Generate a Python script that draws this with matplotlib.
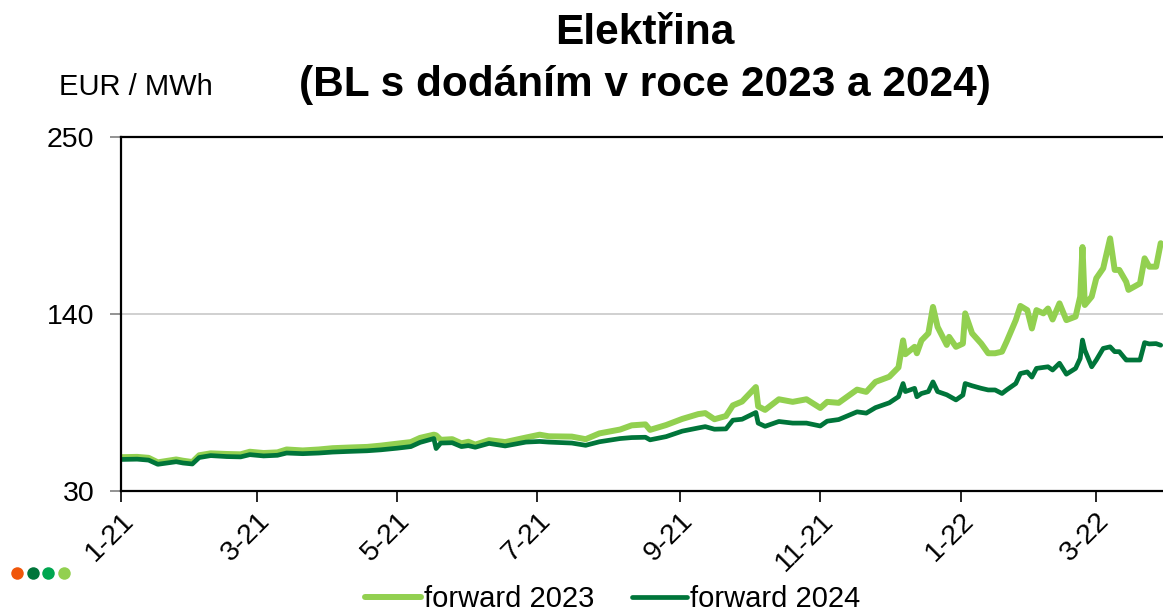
import matplotlib
matplotlib.use("Agg")
import matplotlib.pyplot as plt
import matplotlib.dates as mdates
from matplotlib.lines import Line2D
import pandas as pd

plt.rcParams["font.family"] = ["Liberation Sans", "DejaVu Sans"]

# Baseload forward prices, EUR/MWh
dates = [
    "2021-01-01", "2021-01-08", "2021-01-13", "2021-01-17", "2021-01-25", "2021-01-28",
    "2021-02-01", "2021-02-04", "2021-02-09", "2021-02-16", "2021-02-22", "2021-02-26",
    "2021-03-04", "2021-03-10", "2021-03-14", "2021-03-21", "2021-03-28", "2021-04-03",
    "2021-04-10", "2021-04-18", "2021-04-24", "2021-05-01", "2021-05-07", "2021-05-11",
    "2021-05-17", "2021-05-18", "2021-05-20", "2021-05-25", "2021-05-29", "2021-06-01",
    "2021-06-04", "2021-06-10", "2021-06-17", "2021-06-26", "2021-07-02", "2021-07-06",
    "2021-07-16", "2021-07-22", "2021-07-28", "2021-08-06", "2021-08-11", "2021-08-17",
    "2021-08-19", "2021-08-26", "2021-09-02", "2021-09-09", "2021-09-12", "2021-09-16",
    "2021-09-21", "2021-09-24", "2021-09-28", "2021-10-04", "2021-10-05", "2021-10-08",
    "2021-10-14", "2021-10-20", "2021-10-26", "2021-11-01", "2021-11-04", "2021-11-09",
    "2021-11-17", "2021-11-21", "2021-11-25", "2021-12-01", "2021-12-05", "2021-12-07",
    "2021-12-08", "2021-12-12", "2021-12-13", "2021-12-15", "2021-12-18", "2021-12-20",
    "2021-12-22", "2021-12-26", "2021-12-27", "2021-12-30", "2022-01-02", "2022-01-03",
    "2022-01-06", "2022-01-10", "2022-01-13", "2022-01-16", "2022-01-19", "2022-01-21",
    "2022-01-25", "2022-01-27", "2022-01-30", "2022-02-01", "2022-02-03", "2022-02-06",
    "2022-02-08", "2022-02-10", "2022-02-13", "2022-02-16", "2022-02-20", "2022-02-22",
    "2022-02-23", "2022-02-24", "2022-02-27", "2022-03-01", "2022-03-04", "2022-03-07",
    "2022-03-09", "2022-03-11", "2022-03-14", "2022-03-15", "2022-03-20", "2022-03-22",
    "2022-03-24", "2022-03-27", "2022-03-29",
]

forward_2023 = [
    51.0, 51.2, 50.6, 47.8, 49.6, 48.8,
    48.0, 52.2, 53.4, 53.0, 52.8, 54.4,
    53.6, 54.0, 55.8, 55.2, 55.8, 56.6,
    57.0, 57.4, 58.2, 59.4, 60.4, 63.0,
    65.0, 64.6, 61.8, 62.2, 59.6, 60.6,
    58.8, 61.6, 60.4, 63.2, 65.0, 64.0,
    63.8, 62.2, 65.8, 68.2, 70.8, 71.4,
    68.0, 71.0, 74.8, 77.8, 78.4, 74.6,
    76.6, 83.2, 85.6, 94.6, 82.6, 80.4,
    87.0, 85.4, 87.0, 81.6, 85.4, 84.8,
    93.0, 91.6, 97.8, 101.0, 106.8, 123.6,
    115.0, 119.6, 115.6, 123.6, 128.0, 144.4,
    132.0, 120.8, 125.8, 119.6, 121.6, 140.4,
    128.0, 121.6, 115.6, 115.6, 116.6, 122.8,
    136.2, 145.0, 142.4, 131.0, 142.4, 140.4,
    143.4, 136.6, 146.6, 136.2, 138.4, 150.8,
    181.6, 145.6, 150.8, 162.2, 168.4, 187.0,
    167.4, 167.4, 160.0, 155.0, 159.0, 174.6,
    169.4, 169.4, 184.0,
]

forward_2024 = [
    49.6, 49.8, 49.2, 46.6, 48.2, 47.4,
    46.8, 50.8, 52.0, 51.4, 51.2, 52.6,
    51.8, 52.2, 53.6, 53.2, 53.6, 54.2,
    54.6, 55.0, 55.6, 56.6, 57.6, 60.2,
    62.6, 56.4, 59.8, 60.0, 57.6, 58.2,
    57.2, 59.6, 58.0, 60.4, 60.8, 60.4,
    59.8, 58.4, 60.6, 62.6, 63.2, 63.4,
    61.8, 63.8, 67.2, 69.2, 70.0, 68.4,
    68.6, 74.0, 74.6, 78.8, 72.2, 70.2,
    73.2, 72.2, 72.2, 70.4, 73.4, 74.4,
    79.2, 78.4, 81.8, 84.8, 88.6, 96.8,
    91.8, 93.8, 88.6, 90.6, 91.8, 97.8,
    91.8, 89.8, 89.0, 86.6, 89.6, 96.8,
    95.4, 93.8, 92.8, 92.8, 90.6, 92.8,
    96.8, 103.0, 104.0, 100.8, 106.2, 106.8,
    107.2, 105.2, 109.4, 102.6, 106.2, 112.4,
    123.8, 117.6, 107.2, 111.4, 118.6, 119.6,
    116.6, 116.6, 111.4, 111.4, 111.4, 122.2,
    121.4, 121.6, 120.6,
]

series_labels = ["forward 2023", "forward 2024"]
series_colors = ["#92D050", "#00753A"]
y_ticks = [30, 140, 250]
dot_colors = ["#F0560A", "#00753A", "#00A650", "#92D050"]

x = pd.to_datetime(dates)

fig = plt.figure(figsize=(11.63, 6.13), dpi=100)
ax = fig.add_axes([121 / 1163, 1 - 491 / 613, 1 - 121 / 1163, (491 - 137) / 613])

ax.plot(x, forward_2023, color=series_colors[0], lw=4.3, label=series_labels[0],
        solid_joinstyle="round", solid_capstyle="round")
ax.plot(x, forward_2024, color=series_colors[1], lw=3.4, label=series_labels[1],
        solid_joinstyle="round", solid_capstyle="round")

ax.set_xlim(pd.Timestamp("2021-01-01"), pd.Timestamp("2022-03-30"))
ax.set_ylim(30, 250)
ax.set_yticks(y_ticks)
ax.yaxis.grid(True, color="#C8C8C8", lw=1.2)
ax.set_axisbelow(True)

ax.xaxis.set_major_locator(mdates.MonthLocator(bymonth=[1, 3, 5, 7, 9, 11]))
ax.xaxis.set_major_formatter(mdates.DateFormatter("%-m-%y"))
for lbl in ax.get_xticklabels():
    lbl.set_rotation(45)
    lbl.set_ha("right")
    lbl.set_rotation_mode("anchor")

ax.tick_params(axis="x", direction="out", length=8, width=1.2, color="black",
               labelsize=20.5, pad=4)
ax.tick_params(axis="y", direction="out", length=8, width=1.2, color="#808080",
               labelsize=20.5, pad=11)

for side in ["left", "bottom", "top"]:
    ax.spines[side].set_color("black")
    ax.spines[side].set_linewidth(1.6)
ax.spines["right"].set_visible(False)

fig.text(645 / 1163, 1 - 33 / 613, "Elektřina", ha="center", va="center",
         fontsize=30.5, fontweight="bold")
fig.text(645 / 1163, 1 - 85 / 613, "(BL s dodáním v roce 2023 a 2024)", ha="center",
         va="center", fontsize=30.5, fontweight="bold")
fig.text(59 / 1163, 1 - 87 / 613, "EUR / MWh", ha="left", va="center", fontsize=21)

# Decorative row of coloured dots at the lower left
for i, c in enumerate(dot_colors):
    fig.add_artist(Line2D([(17 + 15.6 * i) / 1163], [1 - 573 / 613], marker="o",
                          markersize=9, color=c, markeredgewidth=0,
                          transform=fig.transFigure))

fig.legend(loc="center", bbox_to_anchor=(613 / 1163, 1 - 599 / 613), ncol=2,
           frameon=False, fontsize=21, handlelength=1.9, handletextpad=0.1,
           columnspacing=1.3, borderaxespad=0)

fig.savefig("out.png", dpi=100)
